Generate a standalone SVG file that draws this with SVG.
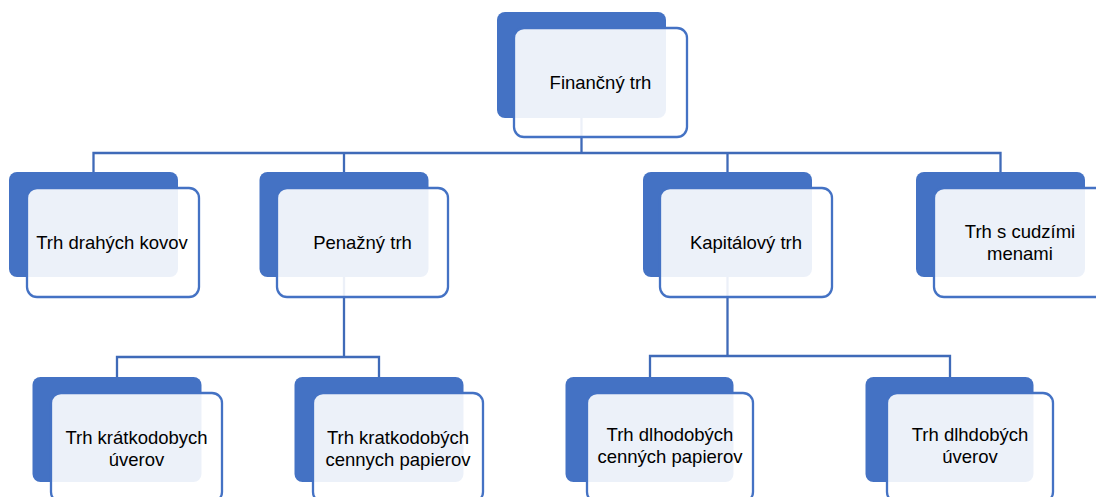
<svg xmlns="http://www.w3.org/2000/svg" width="1096" height="497" viewBox="0 0 1096 497">
<defs>
<style>
.bk{fill:#4472C4;}
.fr{fill:#FFFFFF;fill-opacity:0.9;stroke:#4472C4;stroke-width:2.3;}
.cn{fill:none;stroke:#3F6AB8;stroke-width:2.3;}
text{font-family:"Liberation Sans",Arial,sans-serif;font-size:18.5px;fill:#000;text-anchor:middle;dominant-baseline:central;}
</style>
</defs>
<rect width="1096" height="497" fill="#fff"/>
<g id="connectors">
<path class="cn" d="M581.5 118V153M93.5 172V153H1000.5V172M344 153V172"/>
<path class="cn" d="M727.5 153V172"/>
<path class="cn" d="M344 277V357M117 377V357H379V377"/>
<path class="cn" d="M727.5 277V356M650 377V356H950V377"/>
</g>
<g id="n-financny">
<rect class="bk" x="497" y="12" width="169" height="106" rx="8"/>
<rect class="fr" x="514" y="28" width="173" height="109" rx="10"/>
<text x="600.5" y="82.5">Finančný trh</text>
</g>
<g id="n-drahe-kovy">
<rect class="bk" x="9" y="172" width="169" height="105" rx="8"/>
<rect class="fr" x="27" y="188" width="172" height="109" rx="10"/>
<text x="112" y="242.5">Trh drahých kovov</text>
</g>
<g id="n-penazny">
<rect class="bk" x="259.5" y="172" width="169" height="105" rx="8"/>
<rect class="fr" x="277" y="188" width="171" height="109" rx="10"/>
<text x="362.5" y="242.5">Penažný trh</text>
</g>
<g id="n-kapitalovy">
<rect class="bk" x="643" y="172" width="169" height="105" rx="8"/>
<rect class="fr" x="660" y="188" width="172" height="109" rx="10"/>
<text x="746" y="242.5">Kapitálový trh</text>
</g>
<g id="n-cudzie-meny">
<rect class="bk" x="916" y="172" width="169" height="105" rx="8"/>
<rect class="fr" x="934" y="188" width="172" height="109" rx="10"/>
<text x="1020" y="231.5">Trh s cudzími</text>
<text x="1020" y="253">menami</text>
</g>
<g id="n-kratke-uvery">
<rect class="bk" x="32.5" y="377" width="169" height="105" rx="8"/>
<rect class="fr" x="51" y="393" width="171" height="109" rx="10"/>
<text x="136.5" y="437">Trh krátkodobych</text>
<text x="136.5" y="459">úverov</text>
</g>
<g id="n-kratke-papiere">
<rect class="bk" x="294.5" y="377" width="169" height="105" rx="8"/>
<rect class="fr" x="313" y="393" width="170" height="109" rx="10"/>
<text x="398" y="437">Trh kratkodobých</text>
<text x="398" y="459">cennych papierov</text>
</g>
<g id="n-dlhe-papiere">
<rect class="bk" x="565.5" y="377" width="168" height="105" rx="8"/>
<rect class="fr" x="587" y="393" width="166" height="109" rx="10"/>
<text x="670" y="434">Trh dlhodobých</text>
<text x="670" y="456">cenných papierov</text>
</g>
<g id="n-dlhe-uvery">
<rect class="bk" x="865.5" y="377" width="168" height="105" rx="8"/>
<rect class="fr" x="887" y="393" width="166" height="109" rx="10"/>
<text x="970" y="434">Trh dlhdobých</text>
<text x="970" y="456">úverov</text>
</g>
</svg>
